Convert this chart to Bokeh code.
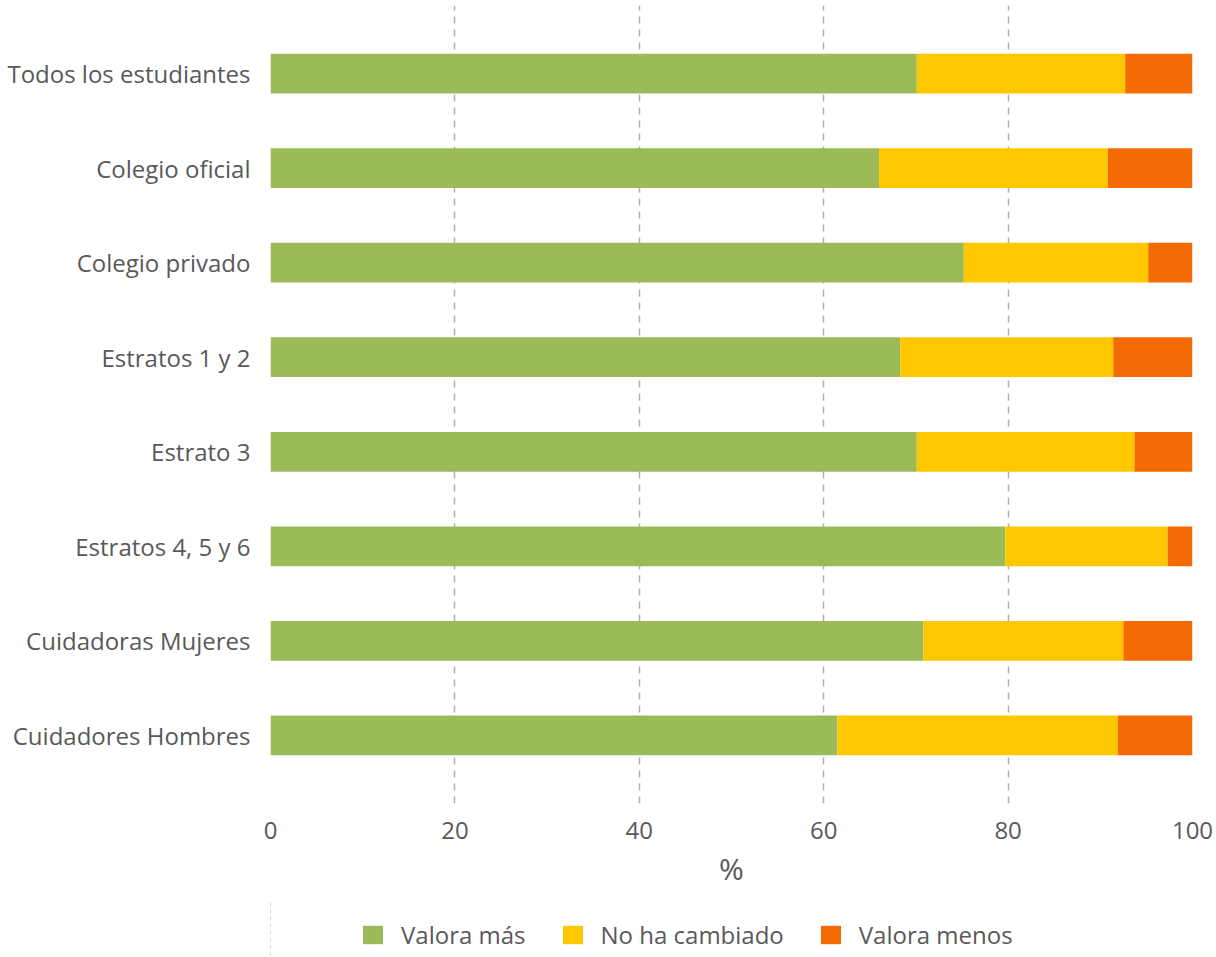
from bokeh.plotting import figure
from bokeh.models import ColumnDataSource, FactorRange, Range1d, Legend, LegendItem, BoxAnnotation
from bokeh.layouts import column
from bokeh.embed import file_html
from bokeh.resources import INLINE

categories = ["Todos los estudiantes", "Colegio oficial", "Colegio privado",
              "Estratos 1 y 2", "Estrato 3", "Estratos 4, 5 y 6",
              "Cuidadoras Mujeres", "Cuidadores Hombres"]
valora_mas = [70.1, 66.0, 75.2, 68.3, 70.1, 79.7, 70.8, 61.5]
no_ha_cambiado = [22.6, 24.8, 20.0, 23.1, 23.6, 17.6, 21.7, 30.4]
valora_menos = [round(100 - a - b, 1) for a, b in zip(valora_mas, no_ha_cambiado)]
series = ["Valora más", "No ha cambiado", "Valora menos"]
colors = ["#9bbb59", "#fdc800", "#f46b04"]
x_ticks = [0, 20, 40, 60, 80, 100]

src = ColumnDataSource(dict(cat=categories, a=valora_mas, b=no_ha_cambiado, c=valora_menos))

FONT = "Open Sans"
TXT = "#595959"

p = figure(y_range=FactorRange(factors=list(reversed(categories)), range_padding=0.055),
           x_range=Range1d(0, 100),
           width=1216, height=900,
           min_border_left=270, min_border_right=24, min_border_top=5, min_border_bottom=97,
           output_backend="svg", toolbar_location=None)

p.hbar_stack(["a", "b", "c"], y="cat", height=0.42, color=colors,
             line_color=None, source=src)

p.outline_line_color = None
p.background_fill_color = "white"
p.border_fill_color = "white"

p.ygrid.grid_line_color = None
p.xgrid.grid_line_color = "#b0b0b0"
p.xgrid.grid_line_dash = "7 6"
p.xgrid.grid_line_width = 1.5
p.xaxis.ticker = x_ticks

for ax in (p.xaxis[0], p.yaxis[0]):
    ax.axis_line_color = None
    ax.major_tick_line_color = None
    ax.minor_tick_line_color = None
    ax.major_label_text_font = FONT
    ax.major_label_text_font_size = "24px"
    ax.major_label_text_color = TXT

p.yaxis.major_label_standoff = 14
p.xaxis.major_label_standoff = 12
p.xaxis.axis_label = "%"
p.xaxis.axis_label_text_font = FONT
p.xaxis.axis_label_text_font_size = "30px"
p.xaxis.axis_label_text_font_style = "normal"
p.xaxis.axis_label_text_color = TXT
p.xaxis.axis_label_standoff = 6

# legend strip: same stacked bars, hidden under a white box, used only as legend proxies
lg = figure(width=1216, height=57, x_range=Range1d(200, 300),
            y_range=FactorRange(factors=categories),
            min_border_left=0, min_border_right=0, min_border_top=0, min_border_bottom=0,
            output_backend="svg", toolbar_location=None)
lg.axis.visible = False
lg.grid.grid_line_color = None
lg.outline_line_color = None
proxies = lg.hbar_stack(["a", "b", "c"], y="cat", height=0.42, color=colors,
                        line_color=None, source=src)
lg.add_layout(BoxAnnotation(fill_color="white", fill_alpha=1.0, line_color=None,
                            level="annotation"))

legend = Legend(items=[LegendItem(label=s, renderers=[r]) for s, r in zip(series, proxies)],
                orientation="horizontal", location=(90, 6),
                glyph_width=25, glyph_height=23, label_standoff=16, spacing=34,
                label_text_font=FONT, label_text_font_size="24px", label_text_color=TXT,
                border_line_color=None, background_fill_alpha=0, padding=0, margin=0)
lg.add_layout(legend, "center")

open("out.html", "w").write(file_html(column(p, lg), INLINE))
